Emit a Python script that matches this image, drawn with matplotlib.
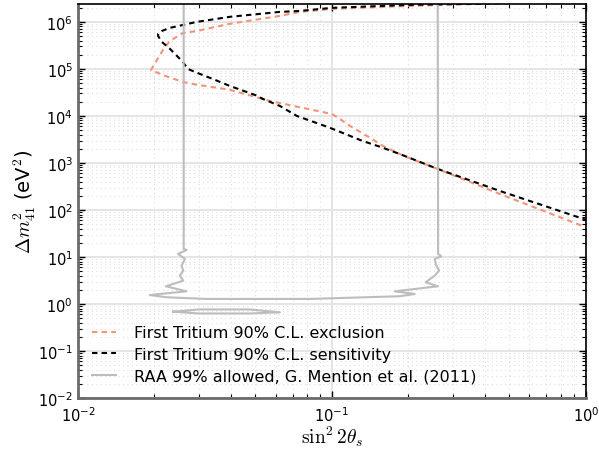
import matplotlib
matplotlib.use('Agg')
import matplotlib.pyplot as plt
from matplotlib.ticker import LogLocator, FuncFormatter, NullFormatter
import numpy as np

plt.rcParams['font.family'] = 'DejaVu Sans'
plt.rcParams['mathtext.fontset'] = 'cm'

# First Tritium 90% C.L. exclusion
excl_x = [0.50, 0.203, 0.1, 0.0748, 0.0624, 0.0396, 0.0294, 0.0259, 0.0230, 0.0220,
          0.0214, 0.0194, 0.0216, 0.0259, 0.0294, 0.0340, 0.0396, 0.0570, 0.1, 0.1046,
          0.118, 0.1375, 0.159, 0.185, 0.216, 0.261, 0.458, 1.0]
excl_y = [2.5e6, 2.19e6, 1.89e6, 1.63e6, 1.34e6, 9.1e5, 6.4e5, 5.8e5, 3.9e5, 2.9e5,
          2.3e5, 9.5e4, 7.4e4, 5.3e4, 4.6e4, 4.1e4, 3.6e4, 2.08e4, 1.1e4, 9.5e3,
          6.1e3, 3.75e3, 2.3e3, 1.55e3, 1.1e3, 745, 219, 43]

# First Tritium 90% C.L. sensitivity
sens_x = [0.46, 0.203, 0.1, 0.0748, 0.0624, 0.0396, 0.0294, 0.0259, 0.0230, 0.0214,
          0.0207, 0.0207, 0.0214, 0.0230, 0.0259, 0.0271, 0.0294, 0.0340, 0.0396, 0.0507,
          0.0535, 0.0624, 0.0728, 0.0982, 0.132, 0.155, 0.185, 0.261, 0.458, 1.0]
sens_y = [2.5e6, 2.30e6, 1.99e6, 1.71e6, 1.63e6, 1.28e6, 1.0e6, 8.6e5, 7.45e5, 6.4e5,
          5.6e5, 5.0e5, 3.75e5, 2.7e5, 1.41e5, 1.0e5, 8.3e4, 6.1e4, 4.35e4, 2.7e4,
          2.3e4, 1.63e4, 1.0e4, 5.6e3, 2.94e3, 2.2e3, 1.55e3, 745, 254, 62]

# RAA 99% allowed contour
raa_x = [0.0261, 0.0261, 0.0268, 0.0248, 0.0264, 0.0256, 0.0260, 0.0252, 0.0260, 0.0222,
         0.0268, 0.0192, 0.0223, 0.0321, 0.0818, 0.185, 0.212, 0.177, 0.262, 0.234,
         0.254, 0.2645, 0.258, 0.254, 0.270, 0.262, 0.262, 0.261]
raa_y = [1e7, 14.8, 14.1, 11.6, 9.06, 6.53, 5.11, 4.0, 3.13, 2.38,
         1.86, 1.55, 1.39, 1.28, 1.28, 1.46, 1.63, 1.86, 2.38, 2.9,
         4.0, 5.11, 6.53, 9.06, 10.3, 11.6, 40, 1e7]
island_x = [0.0237, 0.0299, 0.0475, 0.0624, 0.0475, 0.0299, 0.0237]
island_y = [0.685, 0.764, 0.764, 0.665, 0.628, 0.628, 0.685]

fig = plt.figure(figsize=(5.99, 4.56), dpi=100)
ax = fig.add_axes([0.130, 0.125, 0.848, 0.864])

ax.plot(excl_x, excl_y, color='#f39478', lw=1.5, dashes=(2.6, 2.0),
        label='First Tritium 90% C.L. exclusion')
ax.plot(sens_x, sens_y, color='black', lw=1.5, dashes=(2.6, 2.0),
        label='First Tritium 90% C.L. sensitivity')
ax.plot(raa_x, raa_y, color='#bdbdbd', lw=1.5,
        label='RAA 99% allowed, G. Mention et al. (2011)')
ax.plot(island_x, island_y, color='#bdbdbd', lw=1.5)

ax.set_xscale('log')
ax.set_yscale('log')
ax.set_xlim(1e-2, 1)
ax.set_ylim(1e-2, 2.4e6)

fmt = FuncFormatter(lambda v, p: r'$\mathregular{10^{%d}}$' % int(round(np.log10(v))))
ax.xaxis.set_major_locator(LogLocator(base=10, numticks=20))
ax.yaxis.set_major_locator(LogLocator(base=10, numticks=20))
ax.xaxis.set_minor_locator(LogLocator(base=10, subs=np.arange(2, 10), numticks=20))
ax.yaxis.set_minor_locator(LogLocator(base=10, subs=np.arange(2, 10), numticks=20))
ax.xaxis.set_major_formatter(fmt)
ax.yaxis.set_major_formatter(fmt)
ax.xaxis.set_minor_formatter(NullFormatter())
ax.yaxis.set_minor_formatter(NullFormatter())

ax.grid(which='major', color='#e3e3e3', lw=1.3, ls='-')
ax.grid(which='minor', color='#dedede', lw=0.8, ls=(0, (1, 3)))
ax.set_axisbelow(True)

ax.tick_params(which='both', direction='in', top=True, right=True, labelsize=10.5,
               colors='black')
ax.tick_params(which='major', length=5, width=1)
ax.tick_params(which='minor', length=3, width=0.8)
ax.tick_params(axis='x', pad=5)

for side in ['left', 'bottom']:
    ax.spines[side].set_color('#6b6b6b')
    ax.spines[side].set_linewidth(2)
for side in ['top', 'right']:
    ax.spines[side].set_color('black')
    ax.spines[side].set_linewidth(1.2)

ax.set_xlabel(r'$\sin^2 2\theta_s$', fontsize=14, labelpad=0)
ax.set_ylabel(r'$\Delta m^2_{41}$ (eV$^2$)', fontsize=14, labelpad=0)

ax.legend(loc='lower left', frameon=False, fontsize=11.5, handlelength=1.5,
          handletextpad=1.1, borderaxespad=0.5, labelspacing=0.42)

fig.savefig('out.png', dpi=100)
